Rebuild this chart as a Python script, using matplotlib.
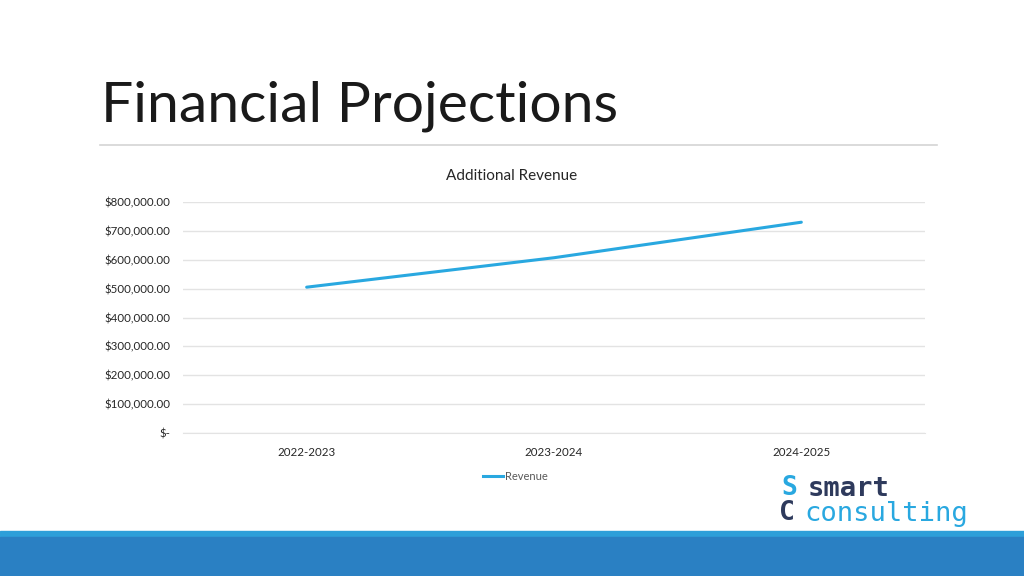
import matplotlib.pyplot as plt
from matplotlib.patches import Rectangle
from matplotlib.lines import Line2D

categories = ['2022-2023', '2023-2024', '2024-2025']
revenue = [505000, 607000, 730000]
yticks = [0, 100000, 200000, 300000, 400000, 500000, 600000, 700000, 800000]

plt.rcParams['font.family'] = ['Lato', 'DejaVu Sans']

fig = plt.figure(figsize=(10.24, 5.76), dpi=100)
W, H = 1024, 576

def fx(px):
    return px / W

def fy(py):
    return 1 - py / H

# slide title and rule
fig.text(fx(101), fy(106), 'Financial Projections', fontsize=41, fontweight='normal',
         color='#1a1a1a', va='center', ha='left')
fig.add_artist(Line2D([fx(100), fx(937)], [fy(145), fy(145)], color='#d4d4d4', lw=1.2))

# chart
ax = fig.add_axes([fx(183), fy(433), fx(925 - 183), (433 - 202) / H])
x = list(range(len(categories)))
ax.plot(x, revenue, color='#29a8e0', lw=2.2, solid_capstyle='round')
ax.set_xlim(-0.5, len(categories) - 0.5)
ax.set_ylim(0, 800000)
ax.set_yticks(yticks)
ax.set_yticklabels(['$-' if v == 0 else '${:,.2f}'.format(v) for v in yticks])
ax.set_xticks(x)
ax.set_xticklabels(categories)
ax.tick_params(axis='both', length=0, labelsize=8.3, colors='#262626')
ax.tick_params(axis='y', pad=9)
ax.tick_params(axis='x', pad=10)
ax.grid(axis='y', color='#e3e3e3', lw=1)
ax.set_axisbelow(True)
for s in ax.spines.values():
    s.set_visible(False)
ax.spines['bottom'].set_visible(True)
ax.spines['bottom'].set_color('#e3e3e3')

fig.text(0.5, fy(176), 'Additional Revenue', fontsize=11, color='#262626', ha='center', va='center')

# legend
fig.add_artist(Line2D([fx(483), fx(503)], [fy(476), fy(476)], color='#29a8e0', lw=2.2))
fig.text(fx(505), fy(476), 'Revenue', fontsize=8, color='#595959', ha='left', va='center')

# bottom bands
fig.add_artist(Rectangle((0, 0), 1, fy(531), transform=fig.transFigure, color='#2d9fd9', zorder=0))
fig.add_artist(Rectangle((0, 0), 1, fy(537), transform=fig.transFigure, color='#2a80c3', zorder=1))

# logo
fig.text(fx(781), fy(488), 'S', fontsize=19, fontweight='bold', color='#29a8e0',
         family='DejaVu Sans Mono', ha='left', va='center')
fig.text(fx(779), fy(513), 'C', fontsize=19, fontweight='bold', color='#2e3a5c',
         family='DejaVu Sans Mono', ha='left', va='center')
fig.text(fx(808), fy(489), 'smart', fontsize=19.5, fontweight='bold', color='#2e3a5c',
         family='DejaVu Sans Mono', ha='left', va='center')
fig.text(fx(804), fy(514), 'consulting', fontsize=19.5, color='#29a8e0',
         family='DejaVu Sans Mono', ha='left', va='center')

fig.savefig('out.png', dpi=100)
